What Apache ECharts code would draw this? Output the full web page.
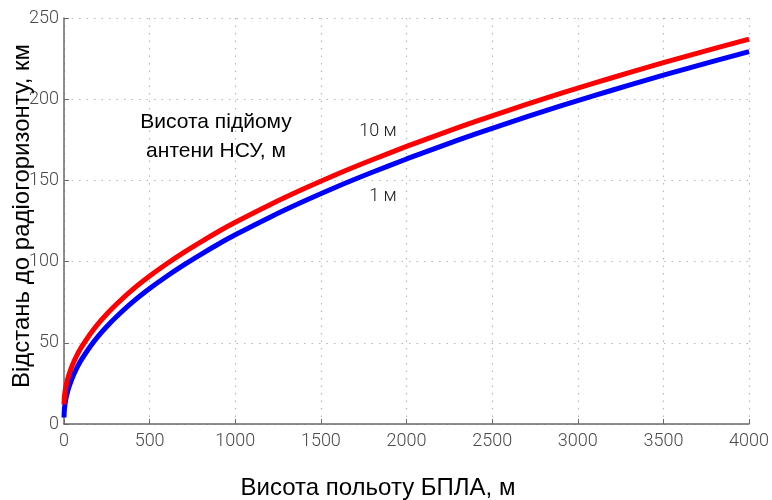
<!DOCTYPE html>
<html>
<head>
<meta charset="utf-8">
<script src="https://cdn.jsdelivr.net/npm/echarts@6/dist/echarts.min.js"></script>
<style>
  html, body { margin: 0; padding: 0; background: #fff; }
  #chart { width: 772px; height: 500px; }
</style>
</head>
<body>
<div id="chart"></div>
<script>
// UAV flight altitude, m
const altitudes = [0, 2, 5, 10, 20, 30, 50, 75, 100, 150, 200, 250, 300, 400, 500,
  600, 700, 800, 900, 1000, 1200, 1400, 1600, 1800, 2000, 2200, 2400, 2600,
  2800, 3000, 3200, 3400, 3600, 3800, 4000];
// Distance to radio horizon, km, ground antenna raised 1 m
const range1m = [4, 8.6, 11.5, 14.9, 19.5, 23.1, 28.8, 34.5, 39.3, 47.3, 54.1, 60.0, 65.4, 75.0, 83.4,
  91.0, 98.0, 104.5, 110.7, 116.5, 127.2, 137.1, 146.4, 155.0, 163.2, 171.0, 178.5, 185.6,
  192.5, 199.1, 205.5, 211.7, 217.8, 223.6, 229.3];
// Distance to radio horizon, km, ground antenna raised 10 m
const range10m = [12, 16.3, 19.2, 22.6, 27.2, 30.8, 36.5, 42.2, 47.0, 55.0, 61.8, 67.7, 73.1, 82.7, 91.1,
  98.7, 105.7, 112.2, 118.4, 124.2, 134.9, 144.8, 154.1, 162.7, 170.9, 178.7, 186.2, 193.3,
  200.2, 206.8, 213.2, 219.4, 225.5, 231.3, 237.0];

const xTicks = [0, 500, 1000, 1500, 2000, 2500, 3000, 3500, 4000];
const yTicks = [0, 50, 100, 150, 200, 250];

const seriesNames = ['1 м', '10 м'];
const seriesColors = ['#0000ff', '#ff0000'];

const tickFont = 'Roboto, "DejaVu Sans", sans-serif';
const titleFont = '"Liberation Sans", Arial, sans-serif';

const pair = (xs, ys) => xs.map((x, i) => [x, ys[i]]);

const chart = echarts.init(document.getElementById('chart'), null, { renderer: 'canvas' });

const gridLine = { show: true, lineStyle: { color: '#b8b8b8', type: [1.5, 6], width: 1.2 } };
const axisLine = { show: true, lineStyle: { color: '#6a6a6a', width: 1.5 } };
const tickLabel = {
  color: '#4a4a4a', fontFamily: tickFont, fontSize: 18, fontWeight: 300,
  formatter: (v) => String(v)
};

chart.setOption({
  animation: false,
  backgroundColor: '#ffffff',
  grid: { left: 64, right: 21, top: 18, bottom: 76, containLabel: false },
  xAxis: {
    type: 'value',
    min: xTicks[0], max: xTicks[xTicks.length - 1], interval: 500,
    axisLine: axisLine,
    axisTick: { show: true, inside: true, length: 5, lineStyle: { color: '#6a6a6a' } },
    axisLabel: Object.assign({ margin: 8 }, tickLabel),
    splitLine: gridLine
  },
  yAxis: {
    type: 'value',
    min: yTicks[0], max: yTicks[yTicks.length - 1], interval: 50,
    axisLine: axisLine,
    axisTick: { show: true, inside: true, length: 5, lineStyle: { color: '#6a6a6a' } },
    axisLabel: Object.assign({ margin: 5 }, tickLabel),
    splitLine: gridLine
  },
  series: [
    {
      name: seriesNames[0], type: 'line', smooth: 0.3,
      showSymbol: false, z: 3,
      lineStyle: { color: seriesColors[0], width: 5 },
      data: pair(altitudes, range1m)
    },
    {
      name: seriesNames[1], type: 'line', smooth: 0.3,
      showSymbol: false, z: 4,
      lineStyle: { color: seriesColors[1], width: 5 },
      data: pair(altitudes, range10m)
    }
  ],
  // Axis titles and text annotations
  graphic: [
    {
      type: 'text', x: 378, y: 488, z: 10,
      style: { text: 'Висота польоту БПЛА, м', font: '24px ' + titleFont, fill: '#000',
        textAlign: 'center', textVerticalAlign: 'middle' }
    },
    {
      type: 'text', x: 22, y: 216, rotation: Math.PI / 2, z: 10,
      style: { text: 'Відстань до радіогоризонту, км', font: '24px ' + titleFont, fill: '#000',
        textAlign: 'center', textVerticalAlign: 'middle' }
    },
    {
      type: 'text', x: 216, y: 122, z: 10,
      style: { text: 'Висота підйому', font: '21px ' + titleFont, fill: '#000',
        textAlign: 'center', textVerticalAlign: 'middle' }
    },
    {
      type: 'text', x: 216, y: 151, z: 10,
      style: { text: 'антени НСУ, м', font: '21px ' + titleFont, fill: '#000',
        textAlign: 'center', textVerticalAlign: 'middle' }
    },
    {
      type: 'text', x: 378, y: 131, z: 10,
      style: { text: seriesNames[1], font: '300 18px ' + tickFont, fill: '#222',
        textAlign: 'center', textVerticalAlign: 'middle' }
    },
    {
      type: 'text', x: 383, y: 196, z: 10,
      style: { text: seriesNames[0], font: '300 18px ' + tickFont, fill: '#222',
        textAlign: 'center', textVerticalAlign: 'middle' }
    }
  ]
});
</script>
</body>
</html>
